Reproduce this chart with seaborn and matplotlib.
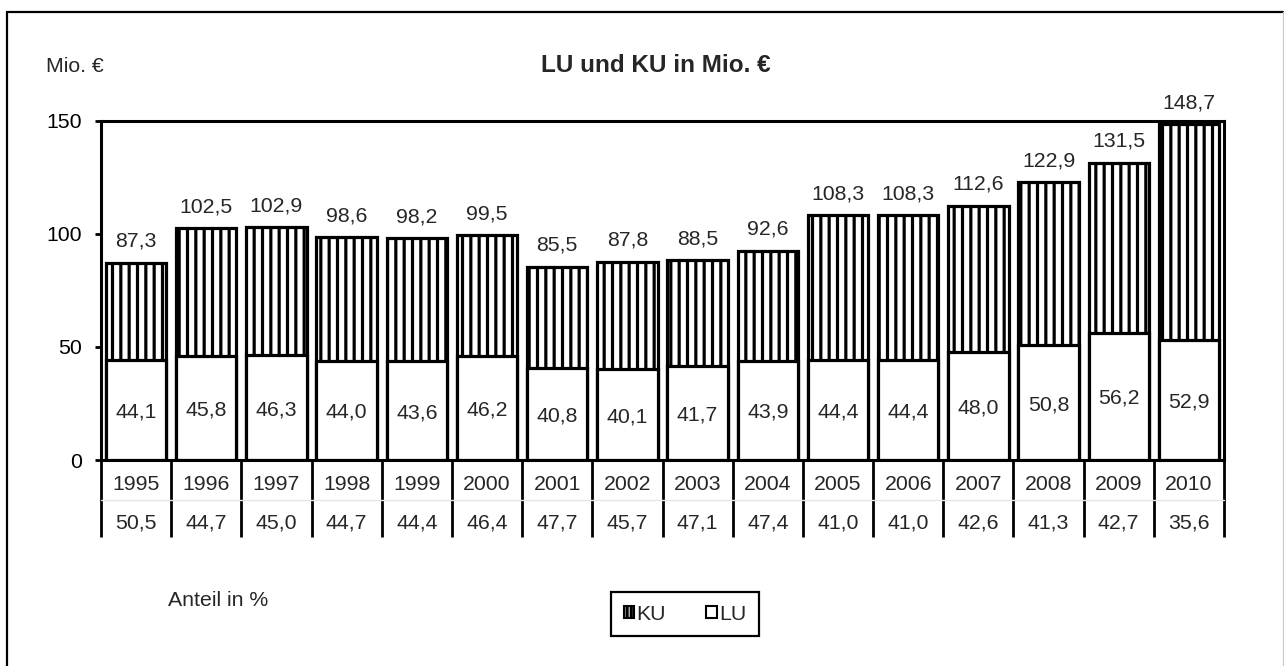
import pandas as pd
import seaborn as sns
import matplotlib.pyplot as plt
from matplotlib.patches import Patch
from matplotlib.lines import Line2D

# values
years = ['1995', '1996', '1997', '1998', '1999', '2000', '2001', '2002',
         '2003', '2004', '2005', '2006', '2007', '2008', '2009', '2010']
total = [87.3, 102.5, 102.9, 98.6, 98.2, 99.5, 85.5, 87.8,
         88.5, 92.6, 108.3, 108.3, 112.6, 122.9, 131.5, 148.7]
lu = [44.1, 45.8, 46.3, 44.0, 43.6, 46.2, 40.8, 40.1,
      41.7, 43.9, 44.4, 44.4, 48.0, 50.8, 56.2, 52.9]
anteil = [50.5, 44.7, 45.0, 44.7, 44.4, 46.4, 47.7, 45.7,
          47.1, 47.4, 41.0, 41.0, 42.6, 41.3, 42.7, 35.6]
yticks = [0, 50, 100, 150]


def de(v):
    # german decimal comma
    return f"{v:.1f}".replace('.', ',')


sns.set_style("ticks")
plt.rcParams['font.family'] = ['Liberation Sans', 'DejaVu Sans']
plt.rcParams['hatch.linewidth'] = 2.3

df = pd.DataFrame({'Jahr': years, 'Gesamt': total, 'LU': lu, 'Anteil': anteil})

FS = 15.3
W, H = 1284, 666
fig = plt.figure(figsize=(W / 100, H / 100), dpi=100)
ax = fig.add_axes([101 / W, (H - 460) / H, 1123 / W, 339 / H])

# total bar hatched (KU on top), LU drawn over it in white
sns.barplot(data=df, x='Jahr', y='Gesamt', color='white', edgecolor='black',
            linewidth=2.3, hatch='||', width=0.86, saturation=1,
            errorbar=None, ax=ax)
sns.barplot(data=df, x='Jahr', y='LU', color='white', edgecolor='black',
            linewidth=2.3, width=0.86, saturation=1, errorbar=None, ax=ax)

ax.set_xlim(-0.5, len(years) - 0.5)
ax.set_ylim(0, 150)
ax.set_yticks(yticks)
ax.set_xticks([])
ax.set_xlabel('')
ax.set_ylabel('')
ax.tick_params(axis='y', direction='out', length=4, width=2, pad=10,
               labelsize=FS, color='black', labelcolor='black')
for sp in ax.spines.values():
    sp.set_visible(True)
    sp.set_color('black')
    sp.set_linewidth(2.2)

for i in range(len(years)):
    ax.text(i, total[i] + 7, de(total[i]), ha='center', va='baseline', fontsize=FS)
    ax.text(i, lu[i] / 2, de(lu[i]), ha='center', va='center_baseline', fontsize=FS)

# data table below the axis
tr = ax.get_xaxis_transform()
for i in range(len(years)):
    ax.text(i, -25 / 339, years[i], transform=tr, ha='center', va='center', fontsize=FS)
    ax.text(i, -63 / 339, de(anteil[i]), transform=tr, ha='center', va='center', fontsize=FS)
for k in range(len(years) + 1):
    ax.plot([k - 0.5, k - 0.5], [0, -77 / 339], transform=tr, color='black',
            lw=2.0, clip_on=False, solid_capstyle='butt')
ax.plot([-0.5, len(years) - 0.5], [-40 / 339, -40 / 339], transform=tr,
        color='#e6e6e6', lw=1, clip_on=False)

fig.text(46 / W, 1 - 66 / H, 'Mio. €', ha='left', va='center', fontsize=FS)
fig.text(656 / W, 1 - 66 / H, 'LU und KU in Mio. €', ha='center', va='center',
         fontsize=17.5, fontweight='bold')
fig.text(168 / W, 1 - 600 / H, 'Anteil in %', ha='left', va='center', fontsize=FS)

handles = [Patch(facecolor='white', edgecolor='black', hatch='||||', lw=1.5, label='KU'),
           Patch(facecolor='white', edgecolor='black', lw=1.5, label='LU')]
leg = fig.legend(handles=handles, loc='center', bbox_to_anchor=(685 / W, 1 - 614 / H),
                 ncol=2, fontsize=FS, handlelength=0.5, handleheight=0.5,
                 handletextpad=0.1, columnspacing=1.9, borderpad=0.6,
                 fancybox=False, framealpha=1)
leg.get_frame().set_edgecolor('black')
leg.get_frame().set_linewidth(1.6)

# outer frame of the chart area
fig.add_artist(Line2D([7 / W, 7 / W], [0, 1 - 12 / H], color='black', lw=1.6))
fig.add_artist(Line2D([7 / W, 1283 / W], [1 - 12 / H, 1 - 12 / H], color='black', lw=1.6))
fig.add_artist(Line2D([1283 / W, 1283 / W], [0, 1 - 12 / H], color='#cccccc', lw=1))

fig.savefig('out.png', dpi=100, facecolor='white')
